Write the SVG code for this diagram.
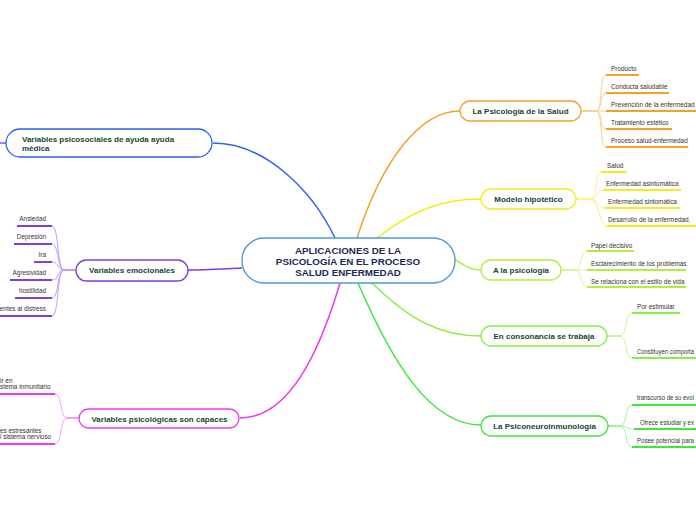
<svg xmlns="http://www.w3.org/2000/svg" width="696" height="520" viewBox="0 0 696 520">
<style>
.node rect{fill:#fff;stroke-width:1.3}
.nt{font-family:"Liberation Sans",Arial,sans-serif;font-weight:bold;font-size:8px;fill:#17453a}
.ct{font-family:"Liberation Sans",Arial,sans-serif;font-weight:bold;font-size:9.8px;fill:#1b2a55;text-anchor:middle}
.lt{font-family:"Liberation Sans",Arial,sans-serif;font-size:6.4px;fill:#333}
.mid{text-anchor:middle}
.end{text-anchor:end}
.conn path{fill:none;stroke-width:1.5}
.sub path{fill:none;stroke-width:1}
.ul{stroke-width:2;fill:none}
</style>
<rect width="696" height="520" fill="#fff"/>
<g id="connectors" class="conn">
<path d="M335,238 C312,190 265,143 213,143" stroke="#2d62ee"/>
<path d="M357,238 C382,160 420,111 460,111" stroke="#f5a02a"/>
<path d="M377,238 C410,212 440,199 481,199" stroke="#f5ec1a"/>
<path d="M452,258 C466,266 470,270 481,270" stroke="#b7ee3c"/>
<path d="M372,283 C410,320 440,336 481,336" stroke="#8aee40"/>
<path d="M358,283 C392,362 430,425 481,425" stroke="#3ee83a"/>
<path d="M340,283 C320,350 290,418 240,418" stroke="#ee38ee"/>
<path d="M242,268 C220,269 205,270 188,270" stroke="#7b3fe4"/>
<path d="M6,143 L0,143" stroke="#7a58e8"/>
</g>
<g id="branches" class="sub">
<path d="M581,111 L596,111" stroke="#f5a02a" stroke-width="2"/>
<path d="M596,111 C603,111 599,75 606,75" stroke="#fbd092"/>
<path d="M596,111 C603,111 599,93 606,93" stroke="#fbd092"/>
<path d="M596,111 L606,111" stroke="#fbd092"/>
<path d="M596,111 C603,111 599,129 606,129" stroke="#fbd092"/>
<path d="M596,111 C603,111 599,147 606,147" stroke="#fbd092"/>
<path d="M576,199 L590,199" stroke="#f5ec1a" stroke-width="2"/>
<path d="M590,199 C598,199 594,172 601,172" stroke="#f7f08a"/>
<path d="M590,199 C598,199 596,190 603,190" stroke="#f7f08a"/>
<path d="M590,199 C598,199 598,208 605,208" stroke="#f7f08a"/>
<path d="M590,199 C598,199 600,226 607,226" stroke="#f7f08a"/>
<path d="M561,270 L575,270" stroke="#b7ee3c" stroke-width="2"/>
<path d="M575,270 C582,270 580,251 587,251" stroke="#d8f59e"/>
<path d="M575,270 L587,270" stroke="#d8f59e"/>
<path d="M575,270 C582,270 580,287 587,287" stroke="#d8f59e"/>
<path d="M607,336 L620,336" stroke="#8aee40" stroke-width="2"/>
<path d="M620,336 C628,336 624,313 632,313" stroke="#c2f59e"/>
<path d="M620,336 C628,336 624,358 632,358" stroke="#c2f59e"/>
<path d="M608,426 L620,426" stroke="#3ee83a" stroke-width="2"/>
<path d="M620,426 C628,426 624,405 632,405" stroke="#a2f59e"/>
<path d="M620,426 C628,426 626,429 634,429" stroke="#a2f59e"/>
<path d="M620,426 C628,426 624,447 632,447" stroke="#a2f59e"/>
<path d="M76,270 L64,270" stroke="#7b3fe4" stroke-width="2"/>
<path d="M64,270 C57,270 59,226 52,226" stroke="#bba0f5"/>
<path d="M64,270 C57,270 59,244 52,244" stroke="#bba0f5"/>
<path d="M64,270 C57,270 59,262 52,262" stroke="#bba0f5"/>
<path d="M64,270 C57,270 59,280 52,280" stroke="#bba0f5"/>
<path d="M64,270 C57,270 59,298 52,298" stroke="#bba0f5"/>
<path d="M64,270 C57,270 59,316 52,316" stroke="#bba0f5"/>
<path d="M79,418 L67,418" stroke="#ee38ee" stroke-width="2"/>
<path d="M67,418 C60,418 62,394 55,394" stroke="#f5a0f5"/>
<path d="M67,418 C60,418 62,444 55,444" stroke="#f5a0f5"/>
</g>
<g id="center">
<rect x="242" y="238" width="213" height="45" rx="22" fill="#fff" stroke="#4a9ad8" stroke-width="1.3"/>
<text class="ct" x="348" y="253.5">APLICACIONES DE LA</text>
<text class="ct" x="348" y="264.5">PSICOLOGÍA EN EL PROCESO</text>
<text class="ct" x="348" y="275.5">SALUD ENFERMEDAD</text>
</g>
<g id="n-salud" class="node">
<rect x="460" y="101" width="121" height="20" rx="10" stroke="#f5a02a"/>
<text class="nt mid" x="520.5" y="114">La Psicología de la Salud</text>
<path class="ul" stroke="#f5a02a" d="M606,75 H639 M606,93 H669 M606,111 H696 M606,129 H672 M606,147 H688"/>
<text class="lt" x="611" y="71.3">Producto</text>
<text class="lt" x="611" y="89.3">Conducta saludable</text>
<text class="lt" x="611" y="107.3">Prevención de la enfermedad</text>
<text class="lt" x="611" y="125.3">Tratamiento estético</text>
<text class="lt" x="611" y="143.3">Proceso salud-enfermedad</text>
</g>
<g id="n-modelo" class="node">
<rect x="481" y="189" width="95" height="20" rx="10" stroke="#f5ec1a"/>
<text class="nt mid" x="528.5" y="202">Modelo hipotético</text>
<path class="ul" stroke="#f5ec1a" d="M601,172 H627 M603,190 H681 M605,208 H680 M607,226 H696"/>
<text class="lt" x="607" y="168.3">Salud</text>
<text class="lt" x="606" y="186.3">Enfermedad asintomática</text>
<text class="lt" x="608" y="204.3">Enfermedad sintomática</text>
<text class="lt" x="608" y="222.3">Desarrollo de la enfermedad.</text>
</g>
<g id="n-alapsicologia" class="node">
<rect x="481" y="260" width="80" height="20" rx="10" stroke="#b7ee3c"/>
<text class="nt mid" x="521" y="273">A la psicología</text>
<path class="ul" stroke="#b7ee3c" d="M587,251 H634 M587,270 H686 M587,287 H686"/>
<text class="lt" x="591" y="248.3">Papel decisivo</text>
<text class="lt" x="591" y="266.3">Esclarecimiento de los problemas</text>
<text class="lt" x="591" y="284.3">Se relaciona con el estilo de vida</text>
</g>
<g id="n-consonancia" class="node">
<rect x="481" y="326" width="126" height="20" rx="10" stroke="#8aee40"/>
<text class="nt mid" x="544" y="339">En consonancia se trabaja</text>
<path class="ul" stroke="#8aee40" d="M632,313 H680 M632,358 H696"/>
<text class="lt" x="637" y="309.3">Por estimular</text>
<text class="lt" x="637" y="354.3" textLength="57" lengthAdjust="spacingAndGlyphs">Constituyen comporta</text>
</g>
<g id="n-psiconeuro" class="node">
<rect x="481" y="416" width="127" height="20" rx="10" stroke="#3ee83a"/>
<text class="nt mid" x="544.5" y="429">La Psiconeuroinmunología</text>
<path class="ul" stroke="#3ee83a" d="M632,405 H696 M634,429 H696 M632,447 H696"/>
<text class="lt" x="637" y="400.3" textLength="57" lengthAdjust="spacingAndGlyphs">transcurso de su evol</text>
<text class="lt" x="640" y="425.3" textLength="54" lengthAdjust="spacingAndGlyphs">Ofrece estudiar y ex</text>
<text class="lt" x="637" y="443.3" textLength="57" lengthAdjust="spacingAndGlyphs">Posee potencial para</text>
</g>
<g id="n-psicosociales" class="node">
<rect x="6" y="129" width="206" height="28" rx="14" stroke="#2d62ee"/>
<text class="nt" x="22" y="142">Variables psicosociales de ayuda ayuda</text>
<text class="nt" x="22" y="151">médica</text>
</g>
<g id="n-emocionales" class="node">
<rect x="76" y="260" width="112" height="21" rx="10.5" stroke="#7b3fe4"/>
<text class="nt mid" x="132" y="273">Variables emocionales</text>
<path class="ul" stroke="#7b3fe4" d="M17,226 H52 M14,244 H52 M34,262 H52 M10,280 H52 M15,298 H52 M0,316 H52"/>
<text class="lt end" x="46" y="221.3">Ansiedad</text>
<text class="lt end" x="46" y="239.3">Depresión</text>
<text class="lt end" x="46" y="257.3">Ira</text>
<text class="lt end" x="46" y="275.3">Agresividad</text>
<text class="lt end" x="46" y="293.3">hostilidad</text>
<text class="lt end" x="46" y="311.3">entes al distress</text>
</g>
<g id="n-psicologicas" class="node">
<rect x="79" y="409" width="160" height="19" rx="9.5" stroke="#ee38ee"/>
<text class="nt mid" x="159.5" y="421.5">Variables psicológicas son capaces</text>
<path class="ul" stroke="#ee38ee" d="M0,394 H55 M0,444 H55"/>
<text class="lt" x="0" y="383.3">ir en</text>
<text class="lt" x="0" y="388.8">stema inmunitario</text>
<text class="lt" x="0" y="433.3">es estresantes</text>
<text class="lt" x="0" y="439.3">l sistema nervioso</text>
</g>
</svg>
